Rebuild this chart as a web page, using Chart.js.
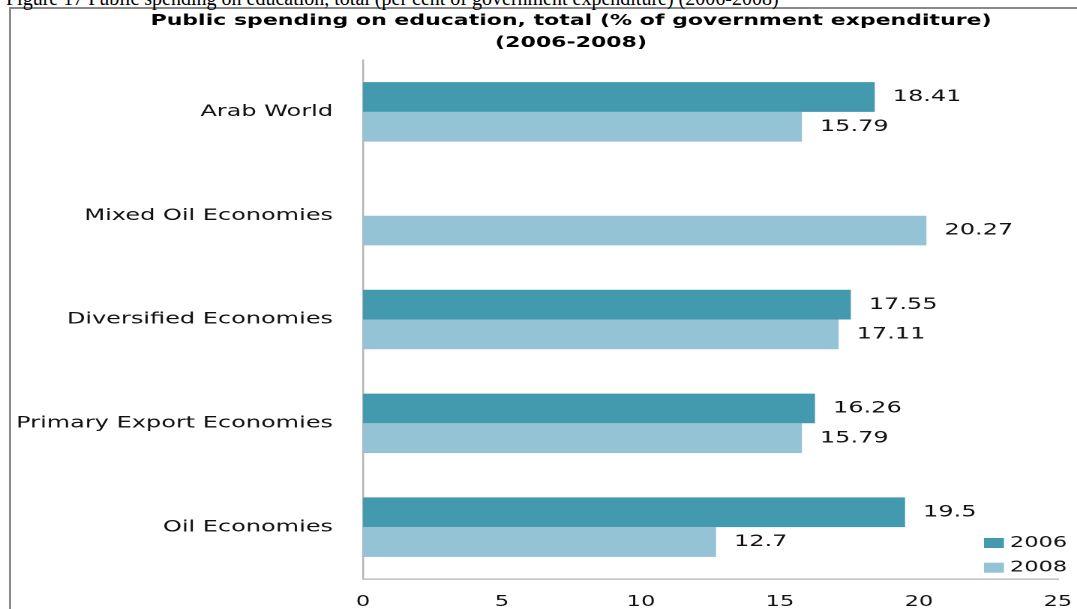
<!DOCTYPE html>
<html>
<head>
<meta charset="utf-8">
<script src="https://cdn.jsdelivr.net/npm/chart.js@4/dist/chart.umd.min.js"></script>
<style>
html,body{margin:0;padding:0;background:#fff;overflow:hidden;width:1077px;height:609px;}
#frame{position:absolute;left:9px;top:7px;width:1100px;height:640px;border-left:2px solid #8a8a8a;border-top:2px solid #8a8a8a;}
#caption{position:absolute;left:6px;top:-12px;font-family:"Liberation Serif","Times New Roman",serif;font-size:20px;line-height:20px;white-space:nowrap;color:#000;}
#wrap{position:absolute;left:0;top:0;width:718px;height:609px;transform:scaleX(1.5);transform-origin:0 0;}
</style>
</head>
<body>
<div id="frame"></div>
<div id="caption">Figure 17  Public spending on education, total (per cent of government expenditure) (2006-2008)</div>
<div id="wrap"><canvas id="c"></canvas></div>
<script>
const categories = ['Arab World', 'Mixed Oil Economies', 'Diversified Economies', 'Primary Export Economies', 'Oil Economies'];
const seriesLabels = ['2006', '2008'];
const values2006 = [18.41, null, 17.55, 16.26, 19.5];
const values2008 = [15.79, 20.27, 17.11, 15.79, 12.7];
const xTicks = [0, 5, 10, 15, 20, 25];
const titleLines = ['Public spending on education, total (% of government expenditure)', '(2006-2008)'];

const FONT = '"DejaVu Sans", Verdana, sans-serif';
const TEXT = '#111111';

const extras = {
  id: 'extras',
  afterDatasetsDraw(chart) {
    const ctx = chart.ctx;
    const area = chart.chartArea;
    ctx.save();
    // data labels
    ctx.font = '16px ' + FONT;
    ctx.fillStyle = TEXT;
    ctx.textAlign = 'left';
    ctx.textBaseline = 'middle';
    chart.data.datasets.forEach((ds, di) => {
      const meta = chart.getDatasetMeta(di);
      meta.data.forEach((el, i) => {
        const v = ds.data[i];
        if (v === null || v === undefined) return;
        ctx.fillText(String(v), el.x + 12, el.y);
      });
    });
    // title
    ctx.font = 'bold 14.7px ' + FONT;
    ctx.fillStyle = '#000000';
    ctx.textAlign = 'center';
    const cx = 380.7;
    ctx.fillText(titleLines[0], cx, 21);
    ctx.fillText(titleLines[1], cx, 43);
    // legend
    ctx.font = '15px ' + FONT;
    ctx.textAlign = 'left';
    chart.data.datasets.forEach((ds, di) => {
      const yc = 543 + di * 24.7;
      const sx = area.right - 49.3;
      ctx.fillStyle = ds.backgroundColor;
      ctx.fillRect(sx, yc - 5, 13.3, 10);
      ctx.fillStyle = TEXT;
      ctx.fillText(ds.label, sx + 17.3, yc);
    });
    ctx.restore();
  }
};

new Chart(document.getElementById('c'), {
  type: 'bar',
  data: {
    labels: categories,
    datasets: [
      { label: seriesLabels[0], data: values2006, backgroundColor: '#4399ae' },
      { label: seriesLabels[1], data: values2008, backgroundColor: '#93c3d5' }
    ]
  },
  options: {
    indexAxis: 'y',
    responsive: true,
    maintainAspectRatio: false,
    animation: false,
    devicePixelRatio: 2,
    categoryPercentage: 0.5725,
    barPercentage: 1,
    layout: { padding: { top: 60, right: 12.7, left: 0, bottom: 0 } },
    plugins: {
      legend: { display: false },
      title: { display: false },
      tooltip: { enabled: false }
    },
    scales: {
      x: {
        min: xTicks[0],
        max: xTicks[xTicks.length - 1],
        afterBuildTicks: (s) => { s.ticks = xTicks.map(v => ({ value: v })); },
        grid: { display: false, drawTicks: false },
        border: { display: true, color: '#b4b4b4', width: 1.2 },
        ticks: { font: { family: FONT, size: 15 }, color: TEXT, padding: 14, maxRotation: 0 },
        afterFit: (s) => { s.height = 30; s.paddingLeft = 0; s.paddingRight = 0; }
      },
      y: {
        grid: { display: false, drawTicks: false },
        border: { display: true, color: '#b4b4b4', width: 1.2 },
        ticks: { font: { family: FONT, size: 16 }, color: TEXT, padding: 20 },
        afterFit: (s) => { s.width = 242; }
      }
    }
  },
  plugins: [extras]
});
</script>
</body>
</html>
